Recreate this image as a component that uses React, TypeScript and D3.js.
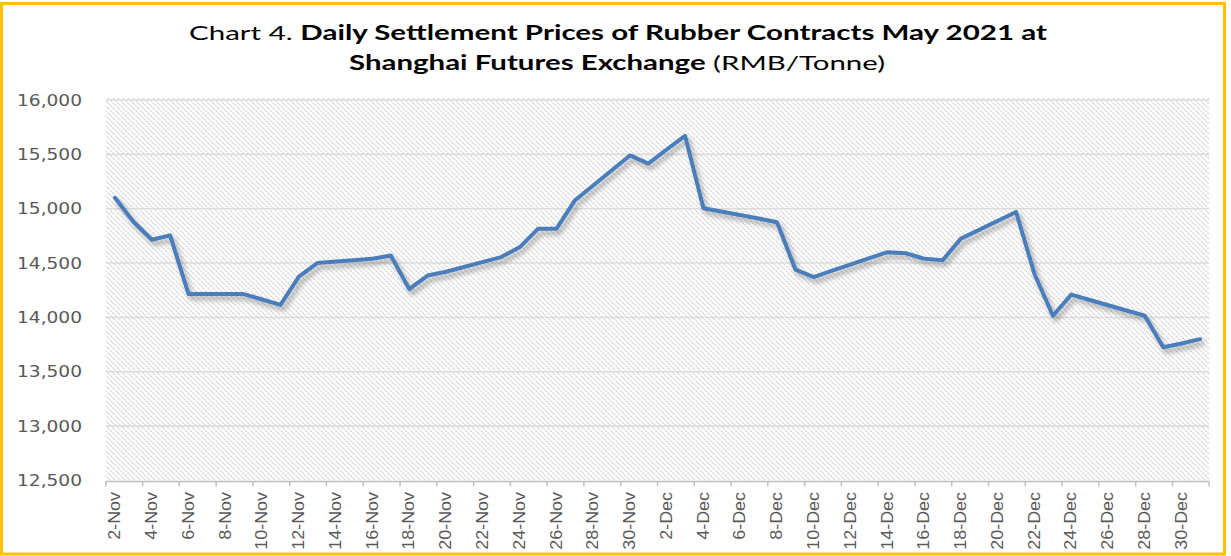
import React from "react";
import * as d3 from "d3";

// ---- data ----
const tradeDates: string[] = [
  "2020-11-02", "2020-11-03", "2020-11-04", "2020-11-05", "2020-11-06",
  "2020-11-09", "2020-11-10", "2020-11-11", "2020-11-12", "2020-11-13",
  "2020-11-16", "2020-11-17", "2020-11-18", "2020-11-19", "2020-11-20",
  "2020-11-23", "2020-11-24", "2020-11-25", "2020-11-26", "2020-11-27",
  "2020-11-30", "2020-12-01", "2020-12-02", "2020-12-03", "2020-12-04",
  "2020-12-07", "2020-12-08", "2020-12-09", "2020-12-10", "2020-12-11",
  "2020-12-14", "2020-12-15", "2020-12-16", "2020-12-17", "2020-12-18",
  "2020-12-21", "2020-12-22", "2020-12-23", "2020-12-24", "2020-12-25",
  "2020-12-28", "2020-12-29", "2020-12-30", "2020-12-31",
];
const settlementPrices: number[] = [
  15100, 14880, 14715, 14755, 14215,
  14215, 14165, 14115, 14375, 14500,
  14540, 14570, 14260, 14385, 14420,
  14555, 14645, 14815, 14815, 15075,
  15490, 15415, 15545, 15670, 15005,
  14910, 14875, 14440, 14370, 14430,
  14600, 14590, 14540, 14525, 14725,
  14970, 14400, 14015, 14210, 14160,
  14015, 13725, 13760, 13800,
];
const axisStart = "2020-11-02";
const axisEnd = "2020-12-31";
const xTickLabels: string[] = [
  "2-Nov", "4-Nov", "6-Nov", "8-Nov", "10-Nov", "12-Nov", "14-Nov", "16-Nov",
  "18-Nov", "20-Nov", "22-Nov", "24-Nov", "26-Nov", "28-Nov", "30-Nov",
  "2-Dec", "4-Dec", "6-Dec", "8-Dec", "10-Dec", "12-Dec", "14-Dec", "16-Dec",
  "18-Dec", "20-Dec", "22-Dec", "24-Dec", "26-Dec", "28-Dec", "30-Dec",
];
const yTickValues: number[] = [12500, 13000, 13500, 14000, 14500, 15000, 15500, 16000];
const yDomain: [number, number] = [12500, 16000];

// ---- layout ----
const W = 1231;
const H = 556;
const plotLeft = 105.8;
const plotRight = 1209.2;
const plotTop = 100;
const plotBottom = 480.5;

const parseIso = d3.utcParse("%Y-%m-%d");
const parseLabel = (s: string) => d3.utcParse("%d-%b-%Y")(s + "-2020") as Date;

export default function App() {
  const start = parseIso(axisStart) as Date;
  const end = parseIso(axisEnd) as Date;
  const nDays = d3.utcDay.count(start, end) + 1;
  const dayW = (plotRight - plotLeft) / nDays;

  const x = d3.scaleUtc().domain([start, end]).range([plotLeft + dayW / 2, plotRight - dayW / 2]);
  const y = d3.scaleLinear().domain(yDomain).range([plotBottom, plotTop]);

  const points = tradeDates.map((d, i) => ({ date: parseIso(d) as Date, v: settlementPrices[i] }));
  const line = d3
    .line<{ date: Date; v: number }>()
    .x((p) => x(p.date))
    .y((p) => y(p.v));

  const tickDates = xTickLabels.map(parseLabel);
  const tickMarks = tickDates.map((d) => x(d) - dayW / 2).concat([plotRight]);
  const fmt = d3.format(",");

  return (
    <svg
      width={W}
      height={H}
      style={{ position: "absolute", left: 0, top: 0, background: "#fff" }}
    >
      <defs>
        <pattern id="hatch" patternUnits="userSpaceOnUse" width="5" height="5">
          <rect width="5" height="5" fill="#ffffff" />
          <path
            d="M-1,-1 L6,6 M-1,4 L1,6 M4,-1 L6,1"
            stroke="#d2d2d2"
            strokeWidth="1.3"
            strokeDasharray="1.6,0.9"
          />
        </pattern>
        <filter id="shadow" x="-10%" y="-10%" width="120%" height="130%">
          <feDropShadow dx="3" dy="4" stdDeviation="2.5" floodColor="#000" floodOpacity="0.33" />
        </filter>
      </defs>

      {/* title */}
      <text
        x={618}
        y={40}
        textAnchor="middle"
        fontFamily="Lato, 'Open Sans', sans-serif"
        fontSize={20}
        fill="#000"
        textLength={858}
        lengthAdjust="spacingAndGlyphs"
      >
        <tspan>Chart 4. </tspan>
        <tspan fontWeight="bold">Daily Settlement Prices of Rubber Contracts May 2021 at</tspan>
      </text>
      <text
        x={617}
        y={70}
        textAnchor="middle"
        fontFamily="Lato, 'Open Sans', sans-serif"
        fontSize={20}
        fill="#000"
        textLength={536}
        lengthAdjust="spacingAndGlyphs"
      >
        <tspan fontWeight="bold">Shanghai Futures Exchange</tspan>
        <tspan> (RMB/Tonne)</tspan>
      </text>

      {/* plot area */}
      <rect
        x={plotLeft}
        y={plotTop - 2}
        width={plotRight - plotLeft}
        height={plotBottom - plotTop + 2}
        fill="url(#hatch)"
      />

      {/* gridlines */}
      {yTickValues
        .filter((v) => v !== yDomain[0])
        .map((v) => (
          <line
            key={"g" + v}
            x1={plotLeft}
            x2={plotRight}
            y1={y(v)}
            y2={y(v)}
            stroke="#dcdcdc"
            strokeWidth={1.6}
          />
        ))}

      {/* y labels */}
      {yTickValues.map((v) => (
        <text
          key={"yl" + v}
          x={82}
          y={y(v)}
          textAnchor="end"
          dominantBaseline="central"
          fontFamily="'DejaVu Sans', sans-serif"
          fontSize={16}
          fill="#595959"
          textLength={65}
          lengthAdjust="spacingAndGlyphs"
        >
          {fmt(v)}
        </text>
      ))}

      {/* x axis */}
      <line x1={plotLeft} x2={plotRight} y1={plotBottom + 1} y2={plotBottom + 1} stroke="#bfbfbf" strokeWidth={1.5} />
      {tickMarks.map((tx, i) => (
        <line key={"t" + i} x1={tx} x2={tx} y1={plotBottom + 1} y2={plotBottom + 6} stroke="#bfbfbf" strokeWidth={1.5} />
      ))}
      {tickDates.map((d, i) => (
        <text
          key={"xl" + i}
          transform={`translate(${x(d)},${492}) rotate(-90) scale(1.12,1)`}
          textAnchor="end"
          dominantBaseline="central"
          fontFamily="'Liberation Sans', Arial, sans-serif"
          fontSize={16}
          fill="#595959"
        >
          {xTickLabels[i]}
        </text>
      ))}

      {/* series */}
      <path
        d={line(points) as string}
        fill="none"
        stroke="#4a7ebb"
        strokeWidth={4}
        strokeLinejoin="round"
        strokeLinecap="round"
        filter="url(#shadow)"
      />

      {/* outer border */}
      <rect x={1.5} y={3.5} width={1223} height={550.5} fill="none" stroke="#FFC000" strokeWidth={3} />
    </svg>
  );
}
